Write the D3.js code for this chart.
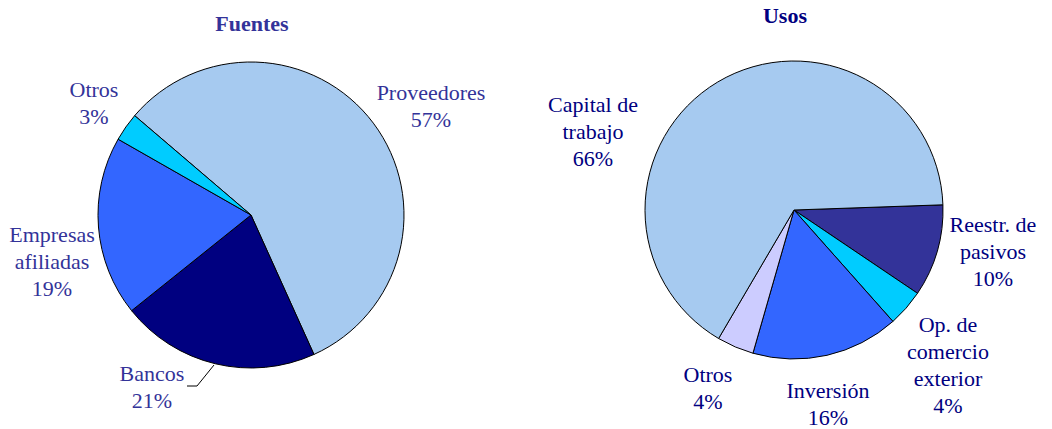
<!DOCTYPE html>
<html>
<head>
<meta charset="utf-8">
<script src="https://cdn.jsdelivr.net/npm/d3@7"></script>
<style>
	body { margin: 0; background: #fff; }
</style>
</head>
<body>
<svg id="chart" width="1052" height="429"></svg>
<script>
var FONT = "'Liberation Serif', 'Times New Roman', Times, 'DejaVu Serif', serif";

// Fuentes (clockwise from start angle)
var fuentesNames = ["Proveedores", "Bancos", "Empresas afiliadas", "Otros"];
var fuentesValues = [57, 21, 19, 3];
var fuentesColors = ["#a6caf0", "#000080", "#3366ff", "#00ccff"];

// Usos (clockwise from start angle)
var usosNames = ["Reestr. de pasivos", "Op. de comercio exterior", "Inversión", "Otros", "Capital de trabajo"];
var usosValues = [10, 4, 16, 4, 66];
var usosColors = ["#333399", "#00ccff", "#3366ff", "#ccccff", "#a6caf0"];

// label lines (text shown beside each slice)
var fuentesLabels = [
	{lines: ["Proveedores", "57%"], x: 431, y: 100},
	{lines: ["Bancos", "21%"], x: 152, y: 381},
	{lines: ["Empresas", "afiliadas", "19%"], x: 52, y: 242},
	{lines: ["Otros", "3%"], x: 94, y: 97}
];
var usosLabels = [
	{lines: ["Reestr. de", "pasivos", "10%"], x: 993, y: 232},
	{lines: ["Op. de", "comercio", "exterior", "4%"], x: 948, y: 332},
	{lines: ["Inversión", "16%"], x: 828, y: 398},
	{lines: ["Otros", "4%"], x: 708, y: 382},
	{lines: ["Capital de", "trabajo", "66%"], x: 593, y: 112}
];

var svg = d3.select("#chart");
var rad = Math.PI / 180;

function drawPie(cfg) {
	var pie = d3.pie()
		.sort(null)
		.startAngle(cfg.start * rad)
		.endAngle(cfg.start * rad + 2 * Math.PI);

	var arc = d3.arc().innerRadius(0).outerRadius(cfg.r);

	var g = svg.append("g")
		.attr("transform", "translate(" + cfg.cx + "," + cfg.cy + ")");

	g.selectAll("path")
		.data(pie(cfg.values))
		.enter().append("path")
			.attr("d", arc)
			.attr("fill", function(d, i) { return cfg.colors[i]; })
			.attr("stroke", "#000")
			.attr("stroke-width", 1)
			.attr("stroke-linejoin", "round");

	svg.append("text")
		.attr("x", cfg.titleX)
		.attr("y", cfg.titleY)
		.attr("text-anchor", "middle")
		.attr("font-family", FONT)
		.attr("font-size", 22)
		.attr("font-weight", "bold")
		.attr("fill", cfg.titleColor)
		.text(cfg.title);

	cfg.labels.forEach(function(lab) {
		var t = svg.append("text")
			.attr("text-anchor", "middle")
			.attr("font-family", FONT)
			.attr("font-size", 22)
			.attr("fill", cfg.textColor);
		lab.lines.forEach(function(line, j) {
			t.append("tspan")
				.attr("x", lab.x)
				.attr("y", lab.y + j * 27)
				.text(line);
		});
	});
}

drawPie({
	cx: 251, cy: 215, r: 153, start: -49.5,
	values: fuentesValues, colors: fuentesColors, labels: fuentesLabels,
	title: "Fuentes", titleX: 252, titleY: 31,
	titleColor: "#333399", textColor: "#333399"
});

drawPie({
	cx: 794, cy: 210, r: 149, start: 88,
	values: usosValues, colors: usosColors, labels: usosLabels,
	title: "Usos", titleX: 785, titleY: 23,
	titleColor: "#000080", textColor: "#000080"
});

// leader line for Bancos
svg.append("path")
	.attr("d", d3.line()([[187, 386], [197, 386], [214, 365]]))
	.attr("fill", "none")
	.attr("stroke", "#000")
	.attr("stroke-width", 1);
</script>
</body>
</html>
